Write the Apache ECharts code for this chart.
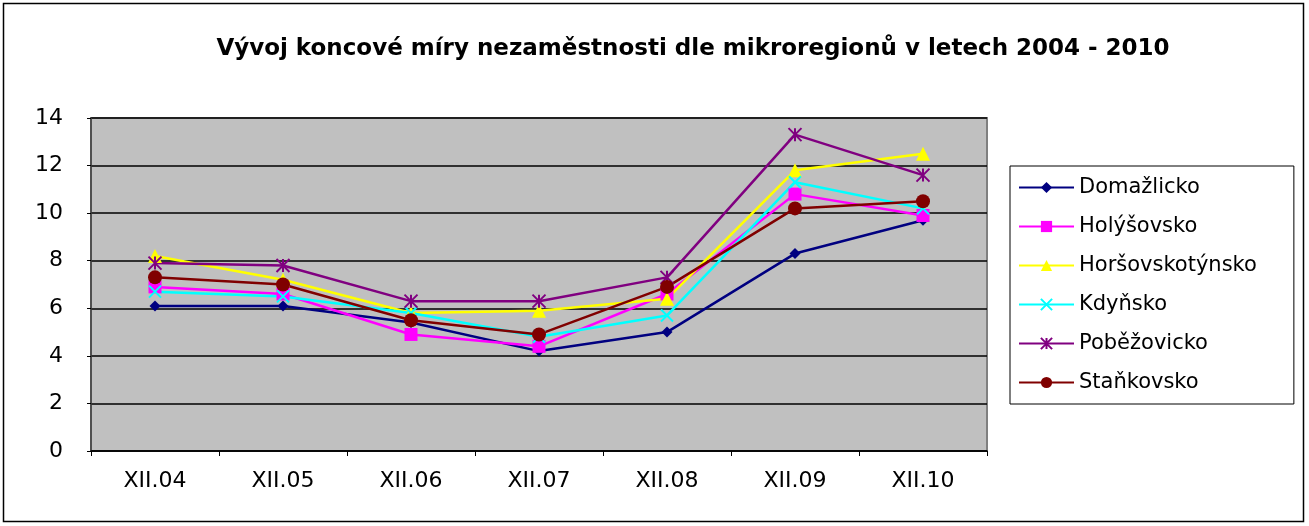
<!DOCTYPE html>
<html>
<head>
<meta charset="utf-8">
<script src="https://cdn.jsdelivr.net/npm/echarts@6/dist/echarts.min.js"></script>
<style>
  html, body { margin: 0; padding: 0; background: #fff; }
  #chart { width: 1309px; height: 526px; }
</style>
</head>
<body>
<div id="chart"></div>
<script>
// data
var categories = ['XII.04', 'XII.05', 'XII.06', 'XII.07', 'XII.08', 'XII.09', 'XII.10'];
var domazlicko = [6.1, 6.1, 5.4, 4.2, 5.0, 8.3, 9.7];
var holysovsko = [6.9, 6.6, 4.9, 4.4, 6.6, 10.8, 9.9];
var horsovskotynsko = [8.2, 7.2, 5.8, 5.9, 6.4, 11.8, 12.5];
var kdynsko = [6.7, 6.5, 5.8, 4.8, 5.7, 11.3, 10.2];
var pobezovicko = [7.9, 7.8, 6.3, 6.3, 7.3, 13.3, 11.6];
var stankovsko = [7.3, 7.0, 5.5, 4.9, 6.9, 10.2, 10.5];

var FONT = 'DejaVu Sans, Arial, sans-serif';

var crossPath = 'path://M0,0L10,10M10,0L0,10';
var starPath = 'path://M5,0L5,10M0,0L10,10M10,0L0,10';

function makeSeries(name, data, color, symbol, size, stroke) {
    return {
        name: name,
        type: 'line',
        data: data,
        symbol: symbol,
        symbolSize: size,
        showAllSymbol: true,
        lineStyle: { color: color, width: 2.5 },
        itemStyle: stroke
            ? { color: 'transparent', borderColor: color, borderWidth: 2 }
            : { color: color, borderColor: color, borderWidth: 0 },
        emphasis: { disabled: true },
        z: 3
    };
}

var dom = document.getElementById('chart');
var myChart = echarts.init(dom, null, { renderer: 'canvas' });
var option = {
    animation: false,
    backgroundColor: '#fff',
    textStyle: { fontFamily: FONT, color: '#000' },
    title: {
        text: 'Vývoj koncové míry nezaměstnosti dle mikroregionů v letech 2004 - 2010',
        left: 688,
        textAlign: 'center',
        top: 33,
        textStyle: { fontFamily: FONT, fontSize: 23, fontWeight: 'bold', color: '#000' }
    },
    graphic: [{
        type: 'rect',
        shape: { x: 3.5, y: 3.5, width: 1300, height: 518 },
        style: { fill: 'none', stroke: '#000', lineWidth: 1.5 },
        z: -1
    }],
    legend: {
        orient: 'vertical',
        left: 1010,
        top: 166,
        padding: [11, 37, 11, 8],
        itemWidth: 55,
        itemHeight: 14,
        itemGap: 18,
        backgroundColor: '#fff',
        borderColor: '#000',
        borderWidth: 1,
        textStyle: { fontFamily: FONT, fontSize: 21, color: '#000' },
        data: ['Domažlicko', 'Holýšovsko', 'Horšovskotýnsko', 'Kdyňsko', 'Poběžovicko', 'Staňkovsko']
    },
    grid: {
        left: 91,
        right: 322,
        top: 118,
        bottom: 75,
        show: true,
        backgroundColor: '#C0C0C0',
        borderColor: '#808080',
        borderWidth: 2
    },
    xAxis: {
        type: 'category',
        data: categories,
        boundaryGap: true,
        axisLine: { lineStyle: { color: '#000', width: 1.5 } },
        axisTick: { show: true, length: 5, lineStyle: { color: '#000' } },
        axisLabel: { fontFamily: FONT, fontSize: 22, color: '#000', margin: 19 }
    },
    yAxis: {
        type: 'value',
        min: 0,
        max: 14,
        interval: 2,
        axisLine: { show: true, lineStyle: { color: '#404040', width: 1.5 } },
        axisTick: { show: true, length: 4, lineStyle: { color: '#000' } },
        axisLabel: { fontFamily: FONT, fontSize: 22, color: '#000', margin: 28 },
        splitLine: { show: true, lineStyle: { color: '#000', width: 1.5 } }
    },
    series: [
        makeSeries('Domažlicko', domazlicko, '#000080', 'diamond', 11, false),
        makeSeries('Holýšovsko', holysovsko, '#FF00FF', 'rect', 13, false),
        makeSeries('Horšovskotýnsko', horsovskotynsko, '#FFFF00', 'triangle', 14, false),
        makeSeries('Kdyňsko', kdynsko, '#00FFFF', crossPath, 12, true),
        makeSeries('Poběžovicko', pobezovicko, '#800080', starPath, 13, true),
        makeSeries('Staňkovsko', stankovsko, '#800000', 'circle', 14, false)
    ]
};
myChart.setOption(option);
</script>
</body>
</html>
